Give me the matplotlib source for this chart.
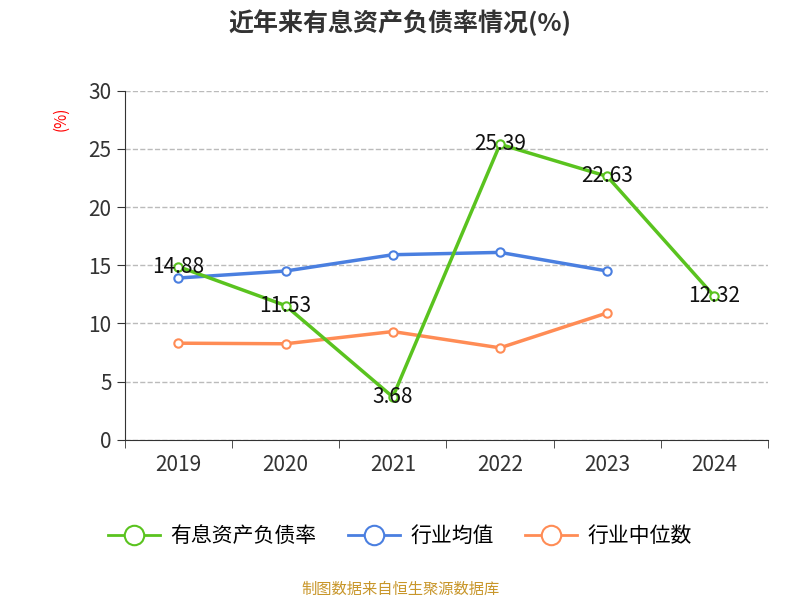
import matplotlib.pyplot as plt
from matplotlib import font_manager

# pick whichever CJK family matplotlib actually registered
cjk = [f.name for f in font_manager.fontManager.ttflist if 'CJK' in f.name]
plt.rcParams['font.family'] = sorted(set(cjk)) + ['DejaVu Sans']

years = ['2019', '2020', '2021', '2022', '2023', '2024']
debt_ratio = [14.88, 11.53, 3.68, 25.39, 22.63, 12.32]
industry_avg = [13.9, 14.5, 15.9, 16.1, 14.5]
industry_median = [8.3, 8.25, 9.3, 7.9, 10.9]

fig = plt.figure(figsize=(8, 6), dpi=100)
ax = fig.add_axes([0.156, 0.267, 0.804, 0.582])

x = list(range(len(years)))
ax.plot(x, debt_ratio, color='#5ac31f', lw=2.5, marker='o', ms=6,
        mfc='white', mew=1.5, zorder=4)
ax.plot(x[:5], industry_avg, color='#4a7fe0', lw=2.5, marker='o', ms=6,
        mfc='white', mew=1.5, zorder=3)
ax.plot(x[:5], industry_median, color='#ff8c55', lw=2.5, marker='o', ms=6,
        mfc='white', mew=1.5, zorder=3)
for i, v in enumerate(debt_ratio):
    ax.text(i, v, f'{v:.2f}', ha='center', va='center', fontsize=15,
            color='#111111', zorder=5)

ax.set_xlim(-0.5, 5.5)
ax.set_ylim(0, 30)
ax.set_yticks(range(0, 31, 5))
ax.set_xticks(x)
ax.set_xticklabels(years)
ax.set_xticks([i - 0.5 for i in range(7)], minor=True)
ax.tick_params(axis='x', which='major', length=0, labelsize=15, colors='#333333', pad=10)
ax.tick_params(axis='x', which='minor', length=6, color='#333333')
ax.tick_params(axis='y', labelsize=15, colors='#333333', length=6)
ax.grid(axis='y', ls='--', color='#bbbbbb', lw=1)
for s in ['top', 'right']:
    ax.spines[s].set_visible(False)
ax.spines['left'].set_color('#333333')
ax.spines['bottom'].set_color('#333333')
ax.text(-0.1, 0.92, '(%)', transform=ax.transAxes, rotation=90, color='red',
        fontsize=11, ha='center', va='center')

fig.text(0.5, 0.962, '近年来有息资产负债率情况(%)', ha='center', va='center',
         fontsize=18, fontweight='bold', color='#333333')

handles = [plt.Line2D([], [], color=c, lw=2, marker='o', ms=14, mfc='white', mew=1.5)
           for c in ['#5ac31f', '#4a7fe0', '#ff8c55']]
fig.legend(handles, ['有息资产负债率', '行业均值', '行业中位数'], loc='center',
           bbox_to_anchor=(0.5, 0.107), ncol=3, frameon=False, fontsize=15,
           handlelength=2.5, columnspacing=1.5, handletextpad=0.5)
fig.text(0.5, 0.018, '制图数据来自恒生聚源数据库', ha='center', va='center',
         fontsize=11, color='#c8962a')

fig.savefig('out.png')
